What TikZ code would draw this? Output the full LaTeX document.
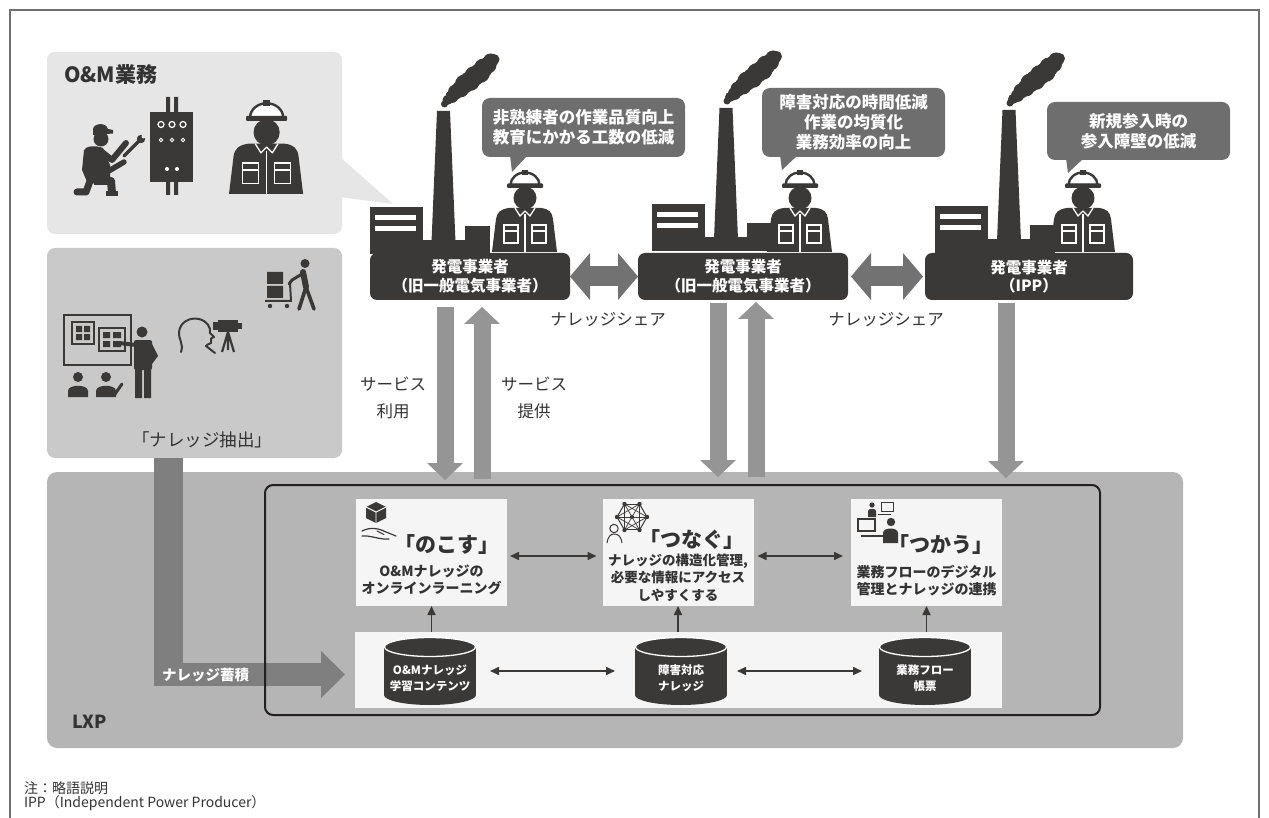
\documentclass[tikz,border=0pt]{standalone}
\usepackage{fontspec}
\setmainfont{Noto Sans CJK JP}
\usetikzlibrary{arrows.meta,calc}

\definecolor{ink}{HTML}{3B3838}
\definecolor{txt}{HTML}{333333}
\definecolor{bubc}{HTML}{6E6E6E}
\definecolor{dblc}{HTML}{727272}
\definecolor{varr}{HTML}{959595}
\definecolor{accc}{HTML}{7F7F7F}
\definecolor{pnlA}{HTML}{E6E6E6}
\definecolor{pnlB}{HTML}{C9C9C9}
\definecolor{lxpc}{HTML}{B5B5B5}
\definecolor{boxw}{HTML}{F5F5F5}
\definecolor{frmc}{HTML}{707070}
\definecolor{framek}{HTML}{231F20}

\newcommand\fsz[2]{\fontsize{#1}{#2}\selectfont}

% database cylinder: x centre, node name
\newcommand\dbcyl[2]{%
  \fill[ink] (#1,695) ellipse (46pt and 10pt);
  \fill[ink] (#1-46,647) rectangle (#1+46,695);
  \filldraw[fill=ink, draw=white, line width=1.3pt] (#1,647) ellipse (45.5pt and 9.5pt);
  \node[minimum width=92pt, minimum height=68pt] (#2) at (#1,671) {};
}

\tikzset{
  worker/.pic={
    % body
    \fill[ink] (0,85) -- (4,52) .. controls (5,45) and (9,42) .. (17,41) -- (49,41)
       .. controls (57,42) and (60,45) .. (61,52) -- (65,85) -- cycle;
    % head
    \fill[ink] (33,31) circle[radius=11.5];
    % helmet
    \filldraw[fill=white, draw=ink, line width=2.4pt]
       (18.5,18) arc[start angle=180, end angle=360, x radius=14.5, y radius=12.5] -- cycle;
    \fill[ink] (30,3) rectangle (36,8);
    \fill[ink, rounded corners=1pt] (15,16.5) rectangle (51,21);
    % collar, zip and pockets
    \draw[white, line width=1.3pt, line join=round] (23,41) -- (28,49) -- (33,44) -- (38,49) -- (43,41);
    \draw[white, line width=1.2pt] (33,47) -- (33,85);
    \draw[white, line width=1.3pt] (12,58) rectangle (26,76) (12,64) -- (26,64);
    \draw[white, line width=1.3pt] (40,58) rectangle (54,76) (40,64) -- (54,64);
  },
  factory/.pic={
    % left block with window stripes
    \fill[ink] (-74,207) rectangle (-21,254);
    \fill[white] (-69,215) rectangle (-28,220.5);
    \fill[white] (-69,226) rectangle (-28,231.5);
    % chimney
    \fill[ink] (-6.5,111) -- (6.5,111) -- (12.5,254) -- (-12.5,254) -- cycle;
    % low building and base
    \fill[ink] (21,226) rectangle (46,254);
    \fill[ink] (-74,240) rectangle (46,254);
    % smoke plume
    \fill[ink] (1,104) circle[radius=3.5] (4,100) circle[radius=5] (8.5,96.5) circle[radius=6.5]
       (12,92) circle[radius=7.5] (17,89) circle[radius=8.5] (21,84) circle[radius=9.5]
       (26.5,81) circle[radius=10] (31,76) circle[radius=10] (36.5,73) circle[radius=10]
       (40,68) circle[radius=9.5] (44.5,65) circle[radius=8.5] (47,61) circle[radius=7.5]
       (50.5,59.5) circle[radius=5.5];
  },
  every node/.style={inner sep=0pt, outer sep=0pt},
  lbl/.style={fill=ink, rounded corners=7pt, text=white, align=center,
    font=\bfseries\fsz{15.5}{18.5}, minimum height=47pt},
  bub/.style={fill=bubc, rounded corners=8pt, text=white, align=center,
    font=\bfseries\fsz{16.5}{20}},
  wbox/.style={fill=boxw, minimum width=151pt, minimum height=107pt},
  sidelbl/.style={text=txt, align=center, font=\fsz{16.5}{27}},
  bigarr/.style={line width=17pt, varr, -{Triangle[width=36pt,length=17pt,line width=0pt]}},
  dblarr/.style={line width=20pt, dblc,
    {Triangle[width=47pt,length=20pt,line width=0pt]}-{Triangle[width=47pt,length=20pt,line width=0pt]}},
  linkarr/.style={line width=1.6pt, ink, {Triangle[width=8pt,length=9pt]}-{Triangle[width=8pt,length=9pt]}},
  uparr/.style={line width=1.6pt, ink, -{Triangle[width=8pt,length=9pt]}},
  boxtxt/.style={text=txt, align=center, font=\bfseries\fsz{14}{17}},
  kana/.style={text=txt, font=\bfseries\fsz{21}{24}},
  cyltxt/.style={text=white, align=center, font=\bfseries\fsz{11.5}{16}},
}

\begin{document}
\begin{tikzpicture}[x=1pt,y=-1pt]
\useasboundingbox (0,0) rectangle (1269,818);
\fill[white] (0,0) rectangle (1269,818);
\draw[frmc, line width=1.3pt] (10,830) -- (10,10) -- (1259,10) -- (1259,830);

% ---------- O&M work panel ----------
\node[fill=pnlA, rounded corners=8pt, minimum width=295pt, minimum height=182pt] (om) at (194.5,143) {};
\fill[pnlA] (340,157) -- (393,204) -- (340,197) -- cycle;
\node[anchor=west, text=txt, font=\bfseries\fsz{21}{24}] (omt) at (64,75) {O\&M業務};

% kneeling technician with wrench
\fill[ink] (101,139) circle[radius=7.5];
\fill[ink] (93,135) -- (93,129) .. controls (94,123) and (106,122) .. (108,129) -- (113,130) -- (113,133.5) -- cycle;
\fill[ink] (84,150) .. controls (86,146) and (95,145) .. (103,148) -- (110,165) -- (110,182) -- (88,184) -- (82,170) -- cycle;
\draw[ink, line width=6pt, line cap=round, line join=round] (102,152) -- (112,160) -- (126,143);
\draw[ink, line width=5.5pt, line cap=round, line join=round] (96,158) -- (107,172) -- (124,162);
\draw[ink, line width=3.2pt, line cap=round] (124,156) -- (139,141);
\fill[ink] (141,139) circle[radius=4.2];
\fill[pnlA] (143.5,136.5) circle[radius=2];
\draw[ink, line width=8pt, line join=round] (94,181) -- (111,181) -- (112,193);
\fill[ink] (106,191) rectangle (118,196);
\draw[ink, line width=7pt, line cap=round, line join=round] (90,181) -- (86,192) -- (77,192);

% control panel
\fill[ink] (166,97) rectangle (170,113) (174,97) rectangle (178,113);
\fill[ink] (166,181) rectangle (170,195) (174,181) rectangle (178,195);
\fill[ink] (150,112) rectangle (193,182);
\foreach \gx in {161,172,183} {
  \draw[white, line width=1.2pt] (\gx,124.5) circle[radius=3];
  \draw[white, line width=0.9pt] (\gx,140) circle[radius=1.8];
}
\fill[white] (167,169) circle[radius=2] (177,169) circle[radius=2];

% worker
\pic[scale=1.14] at (229,97) {worker};

% ---------- knowledge extraction panel ----------
\node[fill=pnlB, rounded corners=8pt, minimum width=295pt, minimum height=210pt] (ext) at (194.5,353) {};
\node[text=txt, font=\fsz{17.5}{20}] (extt) at (202,440) {「ナレッジ抽出」};

% presentation board
\draw[ink, line width=2.6pt] (64,315) rectangle (131,365);
\draw[ink, line width=2pt] (72,322) rectangle (94,344);
\fill[ink] (76,326) rectangle (82,332) (84,326) rectangle (90,332) (76,334) rectangle (82,340) (84,334) rectangle (90,340);
\draw[ink, line width=2pt] (99,328) rectangle (125,351);
\fill[ink] (103,332) rectangle (110,338) (113,332) rectangle (121,338) (103,341) rectangle (110,347) (113,341) rectangle (121,347);
% presenter
\fill[ink] (142,332) circle[radius=5.5];
\fill[ink, rounded corners=2pt] (134,340) rectangle (152,370);
\fill[ink] (152,344) -- (158,356) -- (152,364) -- cycle;
\draw[ink, line width=4pt, line cap=round] (136,345) -- (119,343);
\fill[ink] (135,366) rectangle (142,398) (144,366) rectangle (151,398);
% audience
\fill[ink] (78,377) circle[radius=5] (106,377) circle[radius=5];
\fill[ink] (68,397) -- (68,391) .. controls (68,384) and (88,384) .. (88,391) -- (88,397) -- cycle;
\fill[ink] (96,397) -- (96,391) .. controls (96,384) and (116,384) .. (116,391) -- (116,397) -- cycle;
\draw[ink, line width=3pt, line cap=round, line join=round] (110,390) -- (115,394) -- (122,384);
% interview: head outline and camera
\draw[ink, line width=2pt, line join=round, line cap=round]
  (181,352) .. controls (184,344) and (178,338) .. (179,332)
  .. controls (180,322) and (190,317) .. (199,319)
  .. controls (207,321) and (211,327) .. (210,333) -- (214,337) -- (211,338.5) -- (211,343)
  .. controls (209,345) and (206,344) .. (206,346) -- (215,353);
\fill[ink] (218,320) rectangle (238,332);
\fill[ink] (213,322) rectangle (219,330);
\fill[ink] (238,323) rectangle (242,329);
\draw[ink, line width=2.2pt] (228,332) -- (222,352) (228,332) -- (234,352) (228,332) -- (228,350);
% transport
\fill[ink] (267,272) rectangle (283,284) (267,286) rectangle (283,298);
\draw[ink, line width=2pt] (265,301) -- (291,301) -- (290,283);
\fill[ink] (270,306) circle[radius=2.2] (287,306) circle[radius=2.2];
\fill[ink] (305,263.5) circle[radius=4.5];
\draw[ink, line width=6pt, line cap=round] (303,272) -- (306,287);
\draw[ink, line width=3pt, line cap=round, line join=round] (302,274) -- (292,280) -- (289,284);
\draw[ink, line width=3.6pt, line cap=round] (306,287) -- (299,309) (306,287) -- (314,309);

% ---------- power producers ----------
\pic at (443.5,0) {factory};
\pic at (726,-3) {factory};
\pic at (1009,-1) {factory};
\pic at (492,167) {worker};
\pic at (767,167) {worker};
\pic at (1050,167) {worker};

\node[lbl, minimum width=200pt] (f1) at (470,276.5) {発電事業者\\（旧一般電気事業者）};
\node[lbl, minimum width=210pt] (f2) at (743,276.5) {発電事業者\\（旧一般電気事業者）};
\node[lbl, minimum width=208pt] (f3) at (1029,276.5) {発電事業者\\（IPP）};

% speech bubbles
\node[bub, minimum width=203pt, minimum height=59pt] (b1) at (583.5,127.5) {非熟練者の作業品質向上\\教育にかかる工数の低減};
\fill[bubc] (510,155) -- (528,155) -- (512,172) -- cycle;
\node[bub, minimum width=183pt, minimum height=69pt] (b2) at (853.5,122.5) {障害対応の時間低減\\作業の均質化\\業務効率の向上};
\fill[bubc] (780,155) -- (798,155) -- (782,170) -- cycle;
\node[bub, minimum width=183pt, minimum height=58pt] (b3) at (1138.5,131) {新規参入時の\\参入障壁の低減};
\fill[bubc] (1066,158) -- (1084,158) -- (1068,173) -- cycle;

% knowledge sharing
\draw[dblarr] (f1.east) -- (f2.west);
\draw[dblarr] ([xshift=3pt]f2.east) -- ([xshift=-2pt]f3.west);
\node[sidelbl] (ks1) at (608,320) {ナレッジシェア};
\node[sidelbl] (ks2) at (886,320) {ナレッジシェア};
\node[sidelbl] (su) at (393,398) {サービス\\利用};
\node[sidelbl] (sp) at (534,398) {サービス\\提供};

% ---------- LXP platform ----------
\node[fill=lxpc, rounded corners=10pt, minimum width=1136pt, minimum height=276pt] (lxp) at (615,610) {};
\node[anchor=west, text=txt, font=\bfseries\fsz{18}{21}] (lxpt) at (72,722) {LXP};

% knowledge accumulation arrow
\fill[accc] (154,458) rectangle (183,686);
\draw[accc, line width=23pt, -{Triangle[width=47pt,length=24pt,line width=0pt]}] (154,674.5) -- (345,674.5);
\node[anchor=west, text=white, font=\bfseries\fsz{14.5}{17}] (acct) at (162,675) {ナレッジ蓄積};

\draw[framek, line width=2pt, rounded corners=8pt] (265,485) rectangle (1100,715);

\node[fill=boxw, minimum width=647pt, minimum height=76pt] (strip) at (678.5,670) {};
\node[wbox] (wb1) at (431.5,552.5) {};
\node[wbox] (wb2) at (678,552.5) {};
\node[wbox] (wb3) at (926.5,552.5) {};

% box icons: keep (cube on a hand)
\fill[ink] (376,502) -- (386,507) -- (386,518) -- (376,523) -- (366,518) -- (366,507) -- cycle;
\draw[white, line width=0.9pt, line join=round] (366,507) -- (376,512) -- (386,507) (376,512) -- (376,523);
\draw[ink, line width=1.2pt, line cap=round] (362,531) .. controls (370,527) and (378,528) .. (386,532) -- (396,536);
\draw[ink, line width=1.2pt, line cap=round] (362,536) .. controls (370,535) and (380,540) .. (389,539);
\draw[ink, line width=1.1pt, line cap=round] (377,531) -- (384,534.5);
% box icons: connect (network and person)
\begin{scope}[shift={(632,517)}]
  \foreach \a in {0,60,...,300} {
    \draw[ink, line width=1pt] (\a:15) -- (\a+60:15);
    \draw[ink, line width=0.7pt] (\a:15) -- (\a+120:15);
    \draw[ink, line width=0.7pt] (\a:15) -- (0,0);
    \fill[ink] (\a:15) circle[radius=2.2];
  }
  \fill[ink] (0,0) circle[radius=2];
\end{scope}
\draw[ink, line width=1pt] (614,528.5) circle[radius=4.2];
\draw[ink, line width=1pt] (607,543) .. controls (608,536) and (611,534) .. (614,534) .. controls (618,534) and (621,536) .. (622,543);
% box icons: use (people at terminals)
\draw[ink, line width=1pt] (881,502) rectangle (893,511);
\draw[ink, line width=1pt] (878,514) -- (891,514);
\fill[ink] (872,505) circle[radius=2.6];
\fill[ink] (868,517) -- (868,511) .. controls (868,508) and (876,508) .. (876,511) -- (876,517) -- cycle;
\draw[ink, line width=1.6pt] (858,519) rectangle (875,531);
\draw[ink, line width=1.6pt] (861,536) -- (883,536);
\fill[ink] (891,522) circle[radius=4.2];
\fill[ink] (883,543) -- (883,533) .. controls (883,527) and (898,527) .. (898,533) -- (898,543) -- cycle;

% box texts
\node[kana] (k1) at (447,545) {「のこす」};
\node[boxtxt] (t1) at (431.5,580) {O\&Mナレッジの\\オンラインラーニング};
\node[kana] (k2) at (692,540) {「つなぐ」};
\node[boxtxt, font=\bfseries\fsz{13.5}{17.5}] (t2) at (678,577.5) {ナレッジの構造化管理,\\必要な情報にアクセス\\しやすくする};
\node[kana] (k3) at (941,545) {「つかう」};
\node[boxtxt] (t3) at (926.5,580.5) {業務フローのデジタル\\管理とナレッジの連携};

% databases
\dbcyl{430}{c1}
\dbcyl{681}{c2}
\dbcyl{925}{c3}
\node[cyltxt] (c1t) at (430,678) {O\&Mナレッジ\\学習コンテンツ};
\node[cyltxt] (c2t) at (681,678) {障害対応\\ナレッジ};
\node[cyltxt] (c3t) at (925,678) {業務フロー\\帳票};

% links inside the platform
\draw[linkarr] ([xshift=3pt]wb1.east |- 0,556) -- ([xshift=-6pt]wb2.west |- 0,556);
\draw[linkarr] ([xshift=4pt]wb2.east |- 0,556) -- ([xshift=-8pt]wb3.west |- 0,556);
\draw[linkarr] ([xshift=14pt]c1.east) -- ([xshift=-20pt]c2.west);
\draw[linkarr] ([xshift=10pt]c2.east) -- ([xshift=-17pt]c3.west);
\draw[uparr] (wb1.south |- strip.north) -- (wb1.south);
\draw[uparr] (wb2.south |- strip.north) -- (wb2.south);
\draw[uparr] (wb3.south |- strip.north) -- (wb3.south);

% service use / provision
\draw[bigarr] ($(f1.south)+(-25,7)$) -- ($(f1.south)+(-25,180)$);
\draw[bigarr] ($(f1.south)+(12,179)$) -- ($(f1.south)+(12,7)$);
\draw[bigarr] ($(f2.south)+(-25,3)$) -- ($(f2.south)+(-25,177)$);
\draw[bigarr] ($(f2.south)+(13,177)$) -- ($(f2.south)+(13,2)$);
\draw[bigarr] ($(f3.south)+(-23,3)$) -- ($(f3.south)+(-23,178)$);

% note
\node[anchor=north west, text=txt, align=left, font=\fsz{14}{14}] (note) at (24,782)
  {注：略語説明\\IPP（Independent Power Producer）};
\end{tikzpicture}
\end{document}
